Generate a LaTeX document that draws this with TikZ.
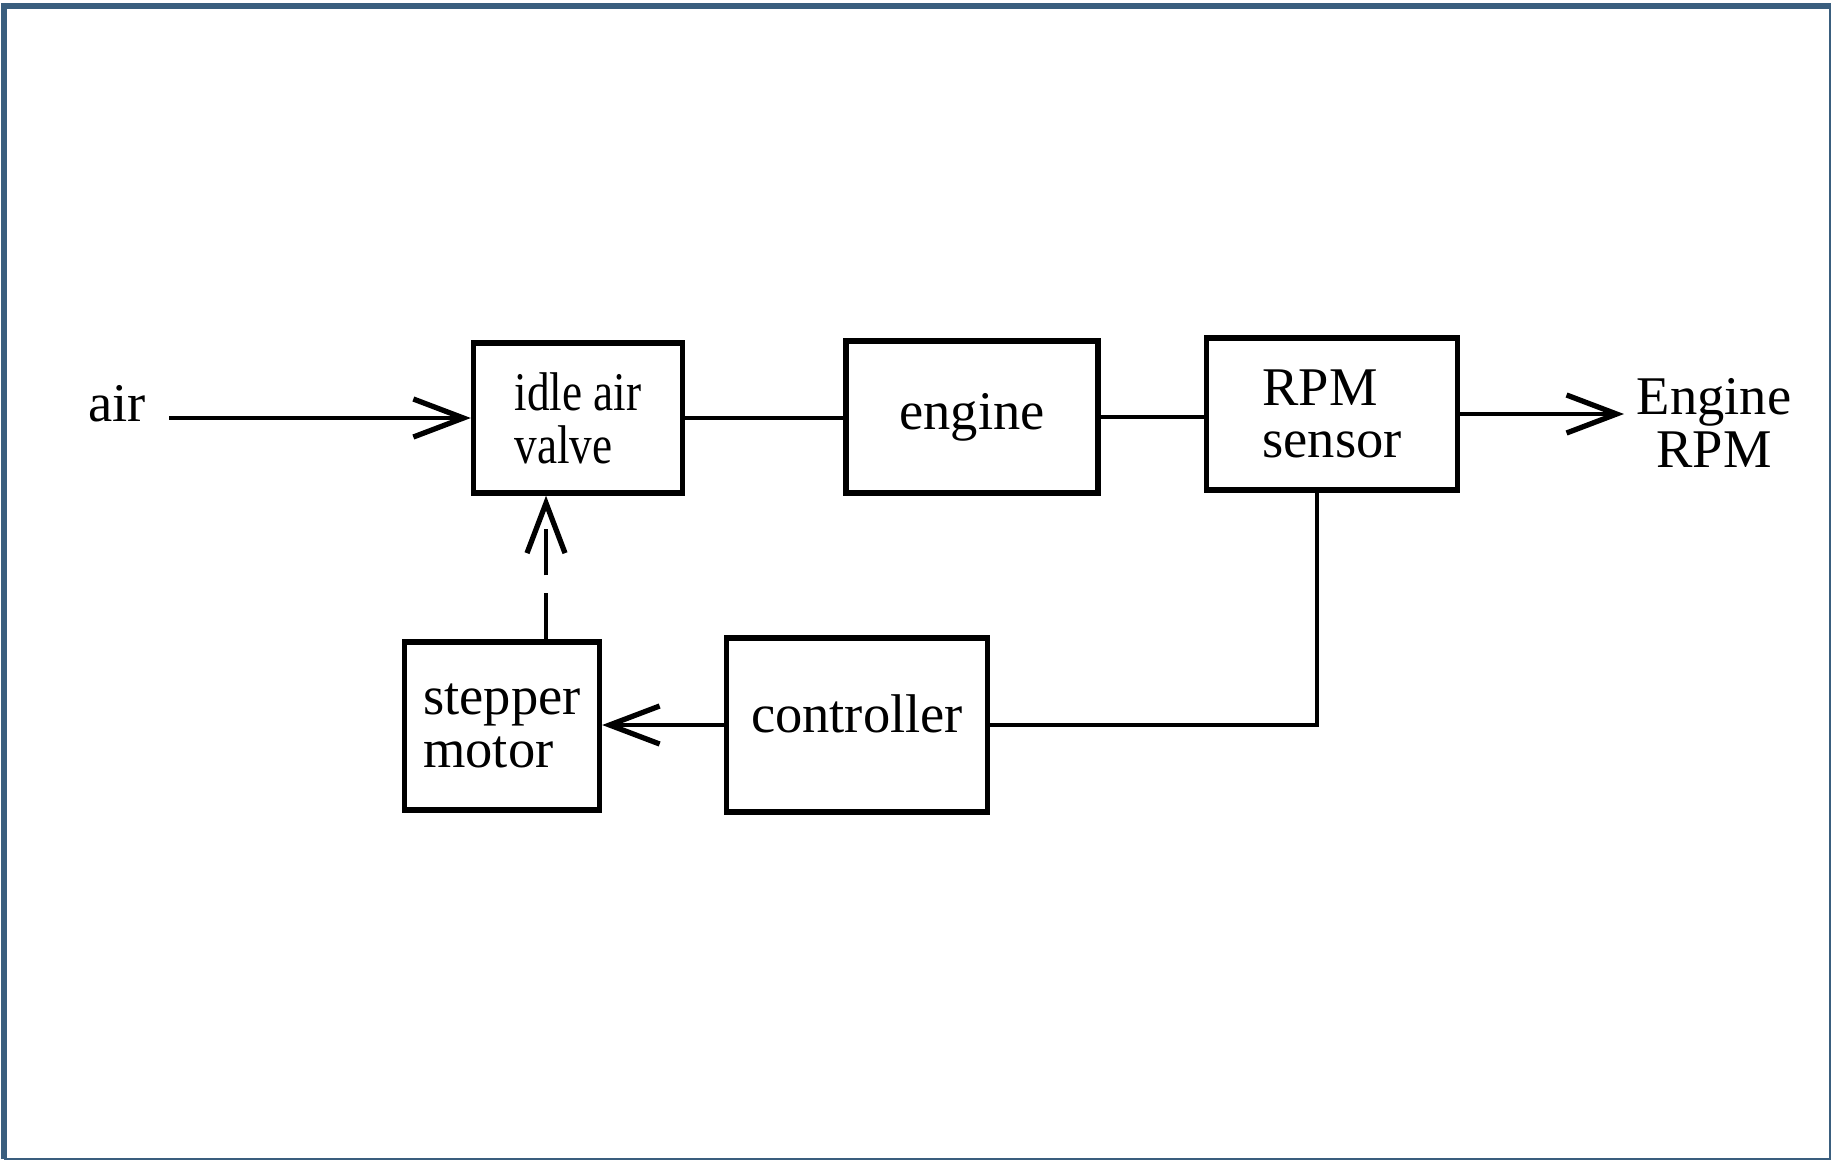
\documentclass[tikz,border=0pt]{standalone}
\usepackage{fontspec}
\setmainfont{Liberation Serif}
\usepackage{graphicx}
\usetikzlibrary{positioning}
\usetikzlibrary{arrows.meta}

\definecolor{marco}{RGB}{58,94,126}

\begin{document}
\begin{tikzpicture}[x=0.01cm, y=-0.01cm,
  bloque/.style={draw, line width=1.5pt, inner sep=0pt, align=left,
    font=\fontsize{15.5}{15}\selectfont},
  etiqueta/.style={inner sep=0pt, font=\fontsize{15.5}{15}\selectfont},
  flecha/.style={line width=1.4pt, -{Straight Barb[length=0.5cm, width=0.38cm, line width=1.5pt]}},
  linea/.style={line width=1.4pt}]

 \useasboundingbox (0,0) rectangle (1832,1160);
 \draw[marco, line width=0.7pt] (1830,5) -- (1830,1159) -- (4,1159); % Marco
 \draw[marco, line width=1.6pt] (4,1159) -- (4,6) -- (1831,6);

 % Bloques
 \node[bloque, minimum width=2.09cm, minimum height=1.50cm] (valve) at (578,418)
   {\scalebox{0.83}[1]{idle air}\\\scalebox{0.83}[1]{valve}};
 \node[bloque, minimum width=2.52cm, minimum height=1.52cm] (engine) at (972,417) {\raisebox{0.03cm}{engine}};
 \node[bloque, minimum width=2.51cm, minimum height=1.52cm] (rpm) at (1332,414) {RPM\\sensor};
 \node[bloque, minimum width=1.95cm, minimum height=1.68cm] (stepper) at (502,726) {stepper\\motor};
 \node[bloque, minimum width=2.61cm, minimum height=1.74cm] (ctrl) at (857,725) {\raisebox{0.22cm}{controller}};

 % Entrada y salida
 \node[etiqueta] (air) at (117,404) {air};
 \coordinate (airin) at (169,418);
 \coordinate (rpmout) at (1624,414);
 \node[etiqueta, align=center] (out) at (1714,423) {Engine\\RPM};

 \draw[flecha] (airin) -- (valve.west); % Aire de entrada
 \draw[linea] (valve.east) -- (valve.east -| engine.west);
 \draw[linea] (engine.east) -- (engine.east -| rpm.west);
 \draw[flecha] (rpm.east) -- (rpmout); % Salida RPM

 % Lazo de realimentación
 \draw[linea] ([xshift=-0.15cm]rpm.south) |- (ctrl.east);
 \draw[flecha] (ctrl.west) -- (ctrl.west -| stepper.east);
 \draw[flecha, dash pattern=on 0.46cm off 0.18cm]
   ([xshift=0.44cm]stepper.north) -- ([xshift=0.44cm]stepper.north |- valve.south); % Acción del motor

\end{tikzpicture}
\end{document}
